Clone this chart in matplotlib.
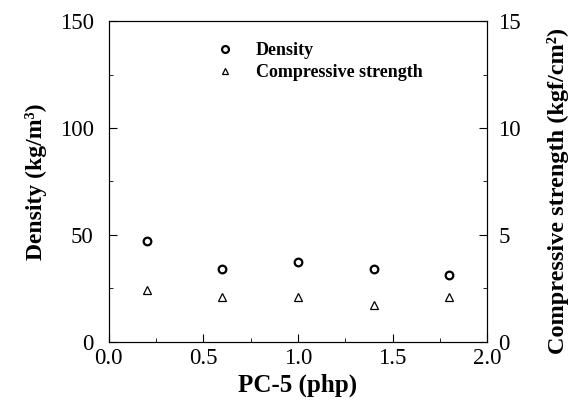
import matplotlib
matplotlib.use("Agg")
import matplotlib.pyplot as plt
from matplotlib.ticker import MultipleLocator, FormatStrFormatter

# data
pc5 = [0.2, 0.6, 1.0, 1.4, 1.8]
density = [47.2, 34.0, 37.5, 34.0, 31.3]
strength = [2.43, 2.09, 2.1, 1.71, 2.1]

plt.rcParams['font.family'] = ['Liberation Serif', 'DejaVu Serif']

fig = plt.figure(figsize=(5.73, 4.12), dpi=100)
ax = fig.add_axes([0.190, 0.170, 0.660, 0.779])
ax2 = ax.twinx()

ax.plot(pc5, density, 'o', mfc='none', mec='black', mew=1.6, ms=5.5, label='Density')
ax2.plot(pc5, strength, '^', mfc='none', mec='black', mew=0.9, ms=5.5, label='Compressive strength')

ax.set_xlim(0, 2.0)
ax.set_ylim(0, 150)
ax2.set_ylim(0, 15)
ax.xaxis.set_major_locator(MultipleLocator(0.5))
ax.xaxis.set_minor_locator(MultipleLocator(0.25))
ax.xaxis.set_major_formatter(FormatStrFormatter('%.1f'))
ax.yaxis.set_major_locator(MultipleLocator(50))
ax.yaxis.set_minor_locator(MultipleLocator(25))
ax2.yaxis.set_major_locator(MultipleLocator(5))
ax2.yaxis.set_minor_locator(MultipleLocator(2.5))

for a in (ax, ax2):
    a.tick_params(which='both', direction='in', labelsize=16.5)
    a.tick_params(which='major', length=6)
    a.tick_params(which='minor', length=3)
ax.tick_params(axis='y', which='both', right=False, pad=11)
ax.tick_params(axis='x', pad=4)
ax2.tick_params(axis='y', pad=8)

ax.set_xlabel('PC-5 (php)', fontsize=18, fontweight='bold')
ax.set_ylabel('Density (kg/m\u00b3)', fontsize=17, fontweight='bold')
ax2.set_ylabel('Compressive strength (kgf/cm\u00b2)', fontsize=17.5, fontweight='bold')
ax.yaxis.set_label_coords(-0.163, 0.498)
ax2.yaxis.set_label_coords(1.158, 0.47)

h1, l1 = ax.get_legend_handles_labels()
h2, l2 = ax2.get_legend_handles_labels()
ax.legend(h1 + h2, l1 + l2, loc='upper left', bbox_to_anchor=(0.235, 0.985),
          frameon=False, prop={'size': 13, 'weight': 'bold'}, handletextpad=1.1,
          handlelength=1.2, markerscale=0.9, labelspacing=0.3)

fig.savefig('out.png', dpi=100)
